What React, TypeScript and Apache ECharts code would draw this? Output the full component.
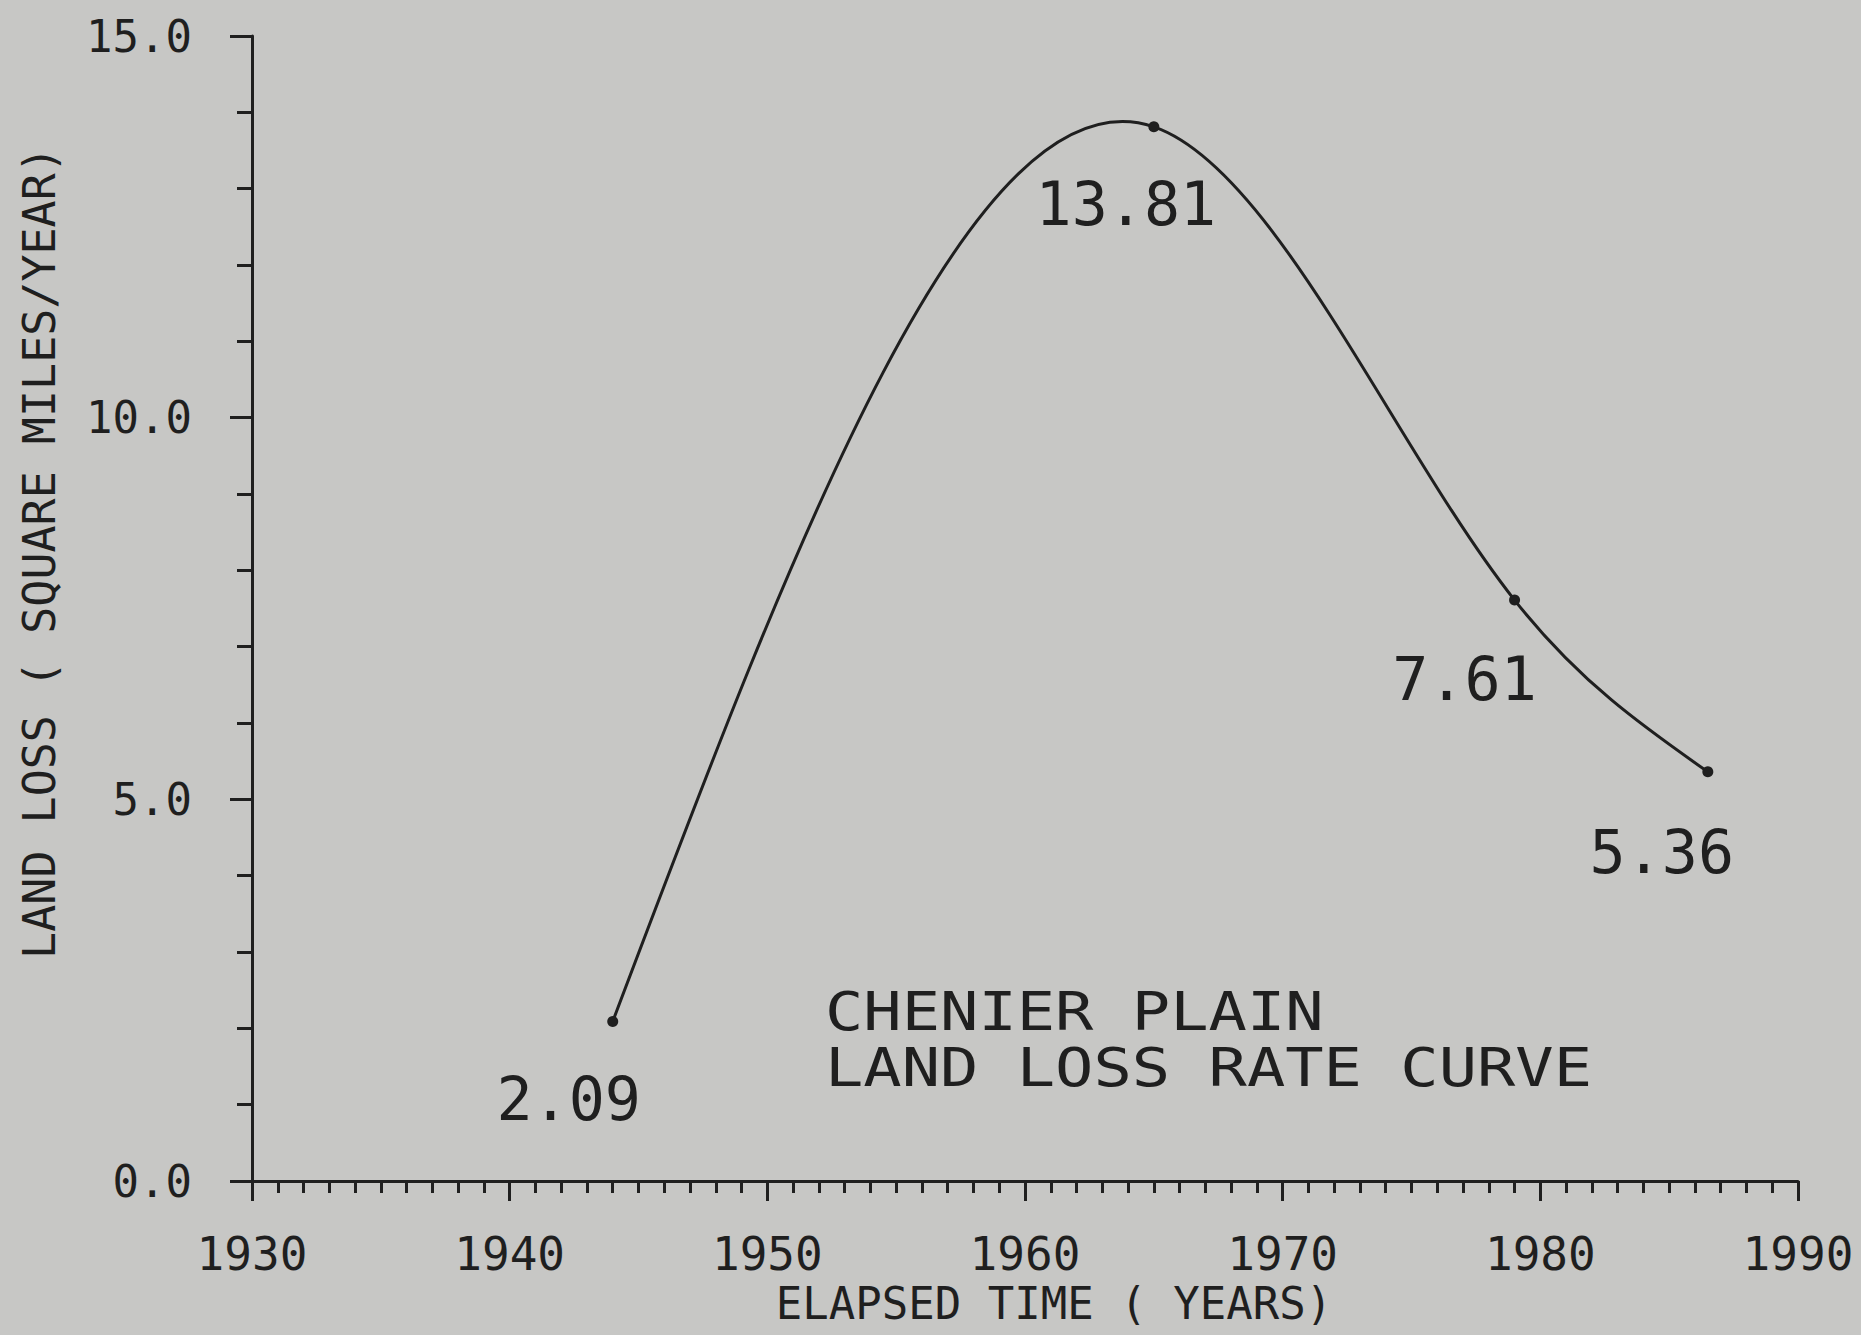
import React, { useEffect, useRef } from "react";
import * as echarts from "echarts";

// ---- data ----
const years = [1944, 1965, 1979, 1986.5];
const lossRates = [2.09, 13.81, 7.61, 5.36];
const annotationLines = ["CHENIER PLAIN", "LAND LOSS RATE CURVE"];
const xAxisTitle = "ELAPSED TIME ( YEARS)";
const yAxisTitle = "LAND LOSS ( SQUARE MILES/YEAR)";

// ---- styling (label offsets relative to each point, in px) ----
const labelOffsets = [
  [-44, 78],
  [-28, 77],
  [-50, 79],
  [-46, 80],
];

const INK = "#1f1f1f";
const PAPER = "#c7c7c5";
const FONT = "'DejaVu Sans Mono', monospace";

// natural cubic spline slopes at the knots
function splineSlopes(xs: number[], ys: number[]): number[] {
  const n = xs.length;
  const h: number[] = [];
  const d: number[] = [];
  for (let i = 0; i < n - 1; i++) {
    h.push(xs[i + 1] - xs[i]);
    d.push((ys[i + 1] - ys[i]) / h[i]);
  }
  const M = new Array(n).fill(0);
  if (n > 2) {
    const m = n - 2;
    const a: number[] = [], b: number[] = [], c: number[] = [], r: number[] = [];
    for (let k = 0; k < m; k++) {
      const i = k + 1;
      a.push(h[i - 1]);
      b.push(2 * (h[i - 1] + h[i]));
      c.push(h[i]);
      r.push(6 * (d[i] - d[i - 1]));
    }
    for (let k = 1; k < m; k++) {
      const w = a[k] / b[k - 1];
      b[k] -= w * c[k - 1];
      r[k] -= w * r[k - 1];
    }
    const sol = new Array(m).fill(0);
    sol[m - 1] = r[m - 1] / b[m - 1];
    for (let k = m - 2; k >= 0; k--) sol[k] = (r[k] - c[k] * sol[k + 1]) / b[k];
    for (let k = 0; k < m; k++) M[k + 1] = sol[k];
  }
  const s: number[] = [];
  for (let i = 0; i < n - 1; i++) s.push(d[i] - (h[i] * (2 * M[i] + M[i + 1])) / 6);
  s.push(d[n - 2] + (h[n - 2] * (M[n - 2] + 2 * M[n - 1])) / 6);
  return s;
}

export default function App() {
  const ref = useRef<HTMLDivElement>(null);

  useEffect(() => {
    if (!ref.current) return;
    const chart = echarts.init(ref.current, undefined, { renderer: "svg" });
    const slopes = splineSlopes(years, lossRates);
    const points = years.map((y, i) => [y, lossRates[i]]);

    const option: any = {
      animation: false,
      backgroundColor: PAPER,
      grid: { left: 252, right: 63, top: 36, bottom: 154, containLabel: false },
      xAxis: {
        type: "value",
        min: 1930,
        max: 1990,
        interval: 10,
        name: xAxisTitle,
        nameLocation: "middle",
        nameGap: 98,
        nameTextStyle: { fontFamily: FONT, fontSize: 44, color: INK, padding: [0, 0, 0, 58] },
        axisLine: { show: true, onZero: false, lineStyle: { color: INK, width: 3 } },
        axisTick: { show: true, inside: false, length: 20, lineStyle: { color: INK, width: 3 } },
        minorTick: { show: true, splitNumber: 10, length: 12, lineStyle: { color: INK, width: 3 } },
        splitLine: { show: false },
        axisLabel: {
          margin: 50,
          fontFamily: FONT,
          fontSize: 46,
          color: INK,
          formatter: (v: number) => String(v),
        },
      },
      yAxis: {
        type: "value",
        min: 0,
        max: 15,
        interval: 5,
        name: yAxisTitle,
        nameLocation: "middle",
        nameGap: 190,
        nameTextStyle: { fontFamily: FONT, fontSize: 45, color: INK, padding: [0, 0, 0, 112] },
        axisLine: { show: true, onZero: false, lineStyle: { color: INK, width: 3 } },
        axisTick: { show: true, inside: false, length: 22, lineStyle: { color: INK, width: 3 } },
        minorTick: { show: true, splitNumber: 5, length: 15, lineStyle: { color: INK, width: 3 } },
        splitLine: { show: false },
        axisLabel: {
          margin: 60,
          fontFamily: FONT,
          fontSize: 44,
          color: INK,
          formatter: (v: number) => v.toFixed(1),
        },
      },
      graphic: [
        {
          type: "text",
          x: 825,
          y: 1011,
          scaleX: 1.18,
          style: {
            text: annotationLines[0],
            fontFamily: FONT,
            fontSize: 54,
            fill: INK,
            align: "left",
            verticalAlign: "middle",
          },
        },
        {
          type: "text",
          x: 825,
          y: 1067,
          scaleX: 1.18,
          style: {
            text: annotationLines[1],
            fontFamily: FONT,
            fontSize: 54,
            fill: INK,
            align: "left",
            verticalAlign: "middle",
          },
        },
      ],
      series: [
        {
          type: "custom",
          coordinateSystem: "cartesian2d",
          data: points,
          encode: { x: 0, y: 1 },
          silent: true,
          renderItem: (params: any, api: any) => {
            if (params.dataIndex !== 0) return null;
            let d = "";
            for (let i = 0; i < years.length - 1; i++) {
              const h = years[i + 1] - years[i];
              const p0 = api.coord([years[i], lossRates[i]]);
              const p1 = api.coord([years[i] + h / 3, lossRates[i] + (slopes[i] * h) / 3]);
              const p2 = api.coord([years[i + 1] - h / 3, lossRates[i + 1] - (slopes[i + 1] * h) / 3]);
              const p3 = api.coord([years[i + 1], lossRates[i + 1]]);
              if (i === 0) d += `M${p0[0]},${p0[1]}`;
              d += ` C${p1[0]},${p1[1]} ${p2[0]},${p2[1]} ${p3[0]},${p3[1]}`;
            }
            return {
              type: "path",
              shape: { pathData: d },
              style: { fill: "none", stroke: INK, lineWidth: 3 },
            };
          },
          z: 2,
        },
        {
          type: "scatter",
          data: points.map((p, i) => ({
            value: p,
            label: { offset: labelOffsets[i] },
          })),
          symbol: "circle",
          symbolSize: 11,
          itemStyle: { color: INK, opacity: 1 },
          label: {
            show: true,
            position: "inside",
            fontFamily: FONT,
            fontSize: 60,
            color: INK,
            opacity: 1,
            textBorderWidth: 0,
            formatter: (p: any) => p.value[1].toFixed(2),
          },
          z: 3,
        },
      ],
    };

    chart.setOption(option);
    return () => chart.dispose();
  }, []);

  return (
    <div
      ref={ref}
      style={{ position: "absolute", left: 0, top: 0, width: 1861, height: 1335 }}
    />
  );
}
